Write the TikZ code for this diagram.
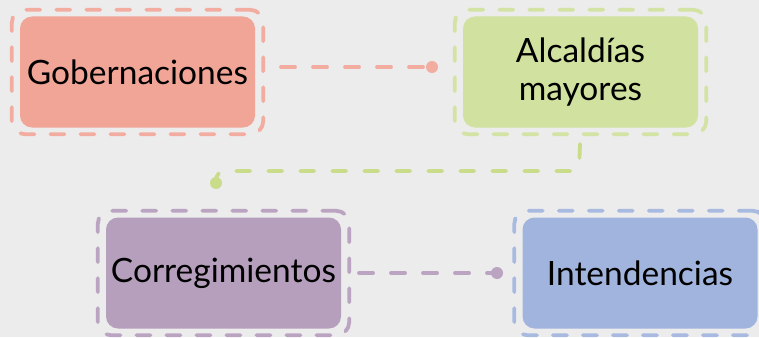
\documentclass[tikz,border=0pt]{standalone}
\usepackage{fontspec}
\setmainfont{Lato}
\usetikzlibrary{fit,calc}
\definecolor{bg}{HTML}{ECECEC}
\definecolor{salmonF}{HTML}{F1A597}
\definecolor{salmonL}{HTML}{F2ACA0}
\definecolor{greenF}{HTML}{D1E1A0}
\definecolor{greenL}{HTML}{D3E3A3}
\definecolor{greenC}{HTML}{C9DC8A}
\definecolor{purpleF}{HTML}{B69FBC}
\definecolor{purpleL}{HTML}{BBA4C1}
\definecolor{blueF}{HTML}{A1B4DD}
\definecolor{blueL}{HTML}{A8BAE0}
\tikzset{
  box/.style={rounded corners=12pt, minimum width=235pt, minimum height=111pt,
    text width=234pt, align=center, inner sep=0pt,
    font=\fontsize{33.5}{38}\selectfont},
  halo/.style={draw, line width=3.8pt, dash pattern=on 14pt off 16pt, line cap=round,
    rounded corners=13pt, inner xsep=8pt, inner ysep=6.5pt},
  link/.style={line width=3.8pt, dash pattern=on 14pt off 18pt, line cap=round},
  tip/.style={circle, inner sep=0pt, minimum size=12pt}
}
\begin{document}
\begin{tikzpicture}[x=1pt,y=-1pt]
\fill[bg] (0,0) rectangle (759,337);
\useasboundingbox (0,0) rectangle (759,337);
% boxes
\node[box, fill=salmonF] (gob) at (137.5,72) {Gobernaciones};
\node[halo, draw=salmonL, fit=(gob)] (gobH) {};
\node[box, fill=greenF] (alc) at (580.5,72) {Alcaldías\\mayores};
\node[halo, draw=greenL, fit=(alc)] (alcH) {};
\node[box, fill=purpleF] (cor) at (223.5,273) {Corregimientos};
\node[halo, draw=purpleL, fit=(cor)] (corH) {};
\node[box, fill=blueF] (int) at (640,273) {Intendencias};
\node[halo, draw=blueL, fit=(int)] (intH) {};
% connector 1
\coordinate (s1) at (281,67);
\node[tip, fill=salmonL] (t1) at (432,67) {};
\draw[link, draw=salmonL] (s1) -- (t1.center);
% connector 2
\coordinate (s2) at (580,144);
\node[tip, fill=greenC] (t2) at (216,183) {};
\draw[link, draw=greenC, rounded corners=9pt] (s2) -- (579,171) -- (216,171) -- (t2.center);
% connector 3
\coordinate (s3) at (359,273);
\node[tip, fill=purpleL] (t3) at (497,273) {};
\draw[link, draw=purpleL] (s3) -- (t3.center);
\end{tikzpicture}
\end{document}
